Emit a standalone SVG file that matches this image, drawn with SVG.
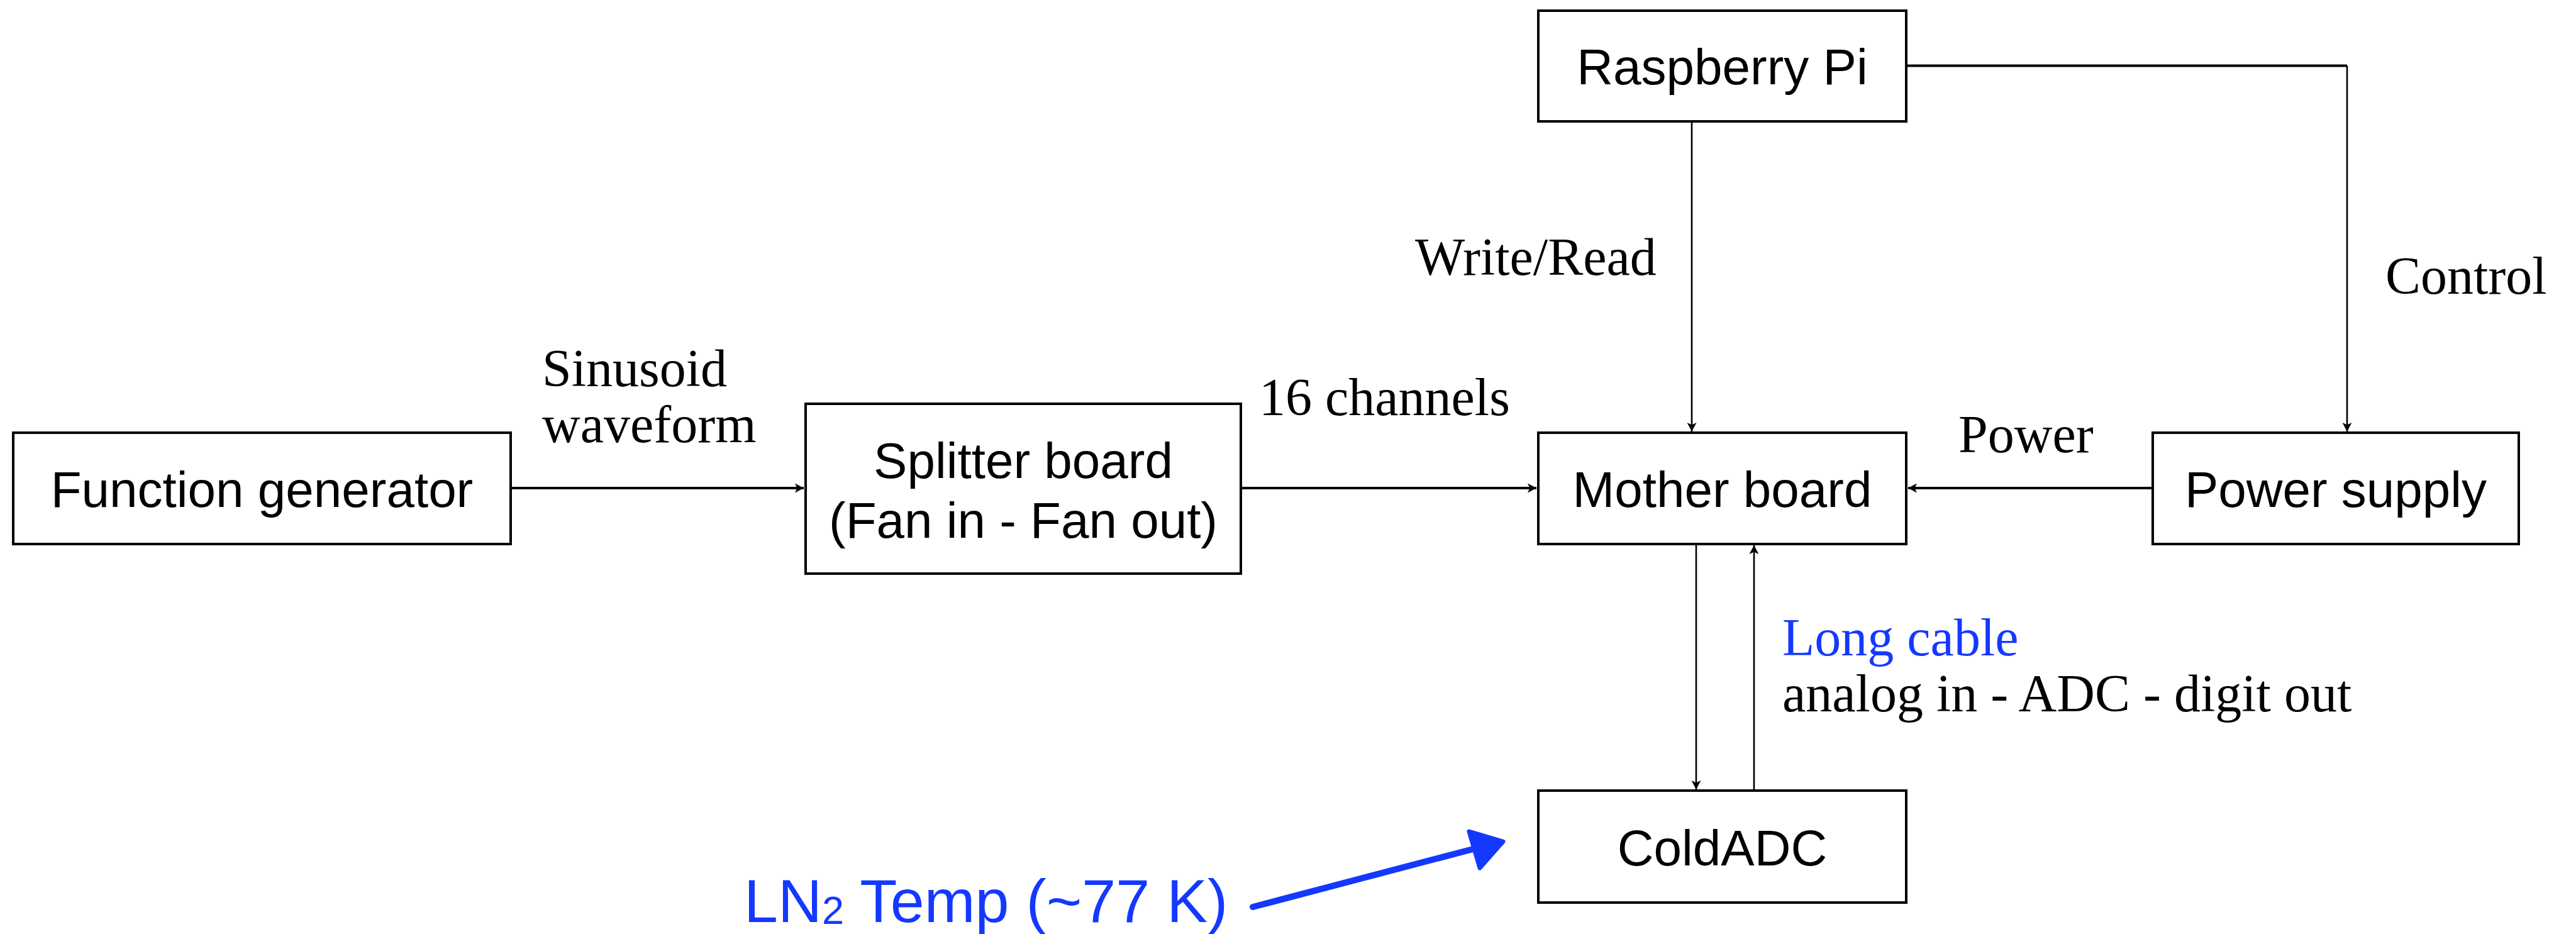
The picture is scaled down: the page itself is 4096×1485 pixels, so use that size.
<svg xmlns="http://www.w3.org/2000/svg" width="4096" height="1485" viewBox="0 0 4096 1485">
<style>
.box{fill:#fff;stroke:#000;stroke-width:4}
.bt{font-family:"Liberation Sans",Arial,sans-serif;font-size:80px;fill:#000;text-anchor:middle}
.lbl{font-family:"Liberation Serif","Times New Roman",serif;font-size:84px;fill:#000}
.blue{fill:#1538ff}
.h{stroke:#000;stroke-width:4;fill:none}
.v{stroke:#000;stroke-width:2.6;fill:none}
</style>
<defs>
<marker id="ah" markerUnits="userSpaceOnUse" markerWidth="18" markerHeight="18" viewBox="-15 -9 18 18" refX="0" refY="0" orient="auto">
<path d="M0,0 L-14,-7.5 L-10.5,0 L-14,7.5 Z" fill="#000"/>
</marker>
</defs>
<rect width="4096" height="1485" fill="#fff"/>
<g id="connectors">
<line class="h" x1="812" y1="776" x2="1278" y2="776" marker-end="url(#ah)"/>
<line class="h" x1="1973" y1="776" x2="2443" y2="776" marker-end="url(#ah)"/>
<line class="h" x1="3423" y1="776" x2="3034" y2="776" marker-end="url(#ah)"/>
<line class="v" x1="2690" y1="193" x2="2690" y2="686" marker-end="url(#ah)"/>
<polyline class="h" points="3031,104.5 3732,104.5"/>
<line class="v" x1="3732" y1="104.5" x2="3732" y2="686" marker-end="url(#ah)"/>
<line class="v" x1="2697" y1="865" x2="2697" y2="1255" marker-end="url(#ah)"/>
<line class="v" x1="2789" y1="1257" x2="2789" y2="867" marker-end="url(#ah)"/>
<g id="ln2-arrow" fill="#1538ff" stroke="#1538ff" stroke-linecap="round" stroke-linejoin="round">
<line x1="1992" y1="1442" x2="2342" y2="1350" stroke-width="10"/>
<polygon points="2336,1322 2390,1338 2353,1380" stroke-width="7"/>
</g>
</g>
<g id="function-generator">
<rect class="box" x="21" y="688" width="791" height="177"/>
<text class="bt" x="416.5" y="806">Function generator</text>
</g>
<g id="splitter-board">
<rect class="box" x="1281" y="642" width="692" height="270"/>
<text class="bt" x="1627" y="760">Splitter board</text>
<text class="bt" x="1627" y="855">(Fan in - Fan out)</text>
</g>
<g id="raspberry-pi">
<rect class="box" x="2446" y="17" width="585" height="176"/>
<text class="bt" x="2738.5" y="134">Raspberry Pi</text>
</g>
<g id="mother-board">
<rect class="box" x="2446" y="688" width="585" height="177"/>
<text class="bt" x="2738.5" y="806">Mother board</text>
</g>
<g id="power-supply">
<rect class="box" x="3423" y="688" width="582" height="177"/>
<text class="bt" x="3714" y="806">Power supply</text>
</g>
<g id="coldadc">
<rect class="box" x="2446" y="1257" width="585" height="178"/>
<text class="bt" x="2738.5" y="1376">ColdADC</text>
</g>
<g id="labels">
<text class="lbl" x="862" y="614">Sinusoid</text>
<text class="lbl" x="862" y="703">waveform</text>
<text class="lbl" x="2002" y="660">16 channels</text>
<text class="lbl" x="2250" y="437">Write/Read</text>
<text class="lbl" x="3793" y="467">Control</text>
<text class="lbl" x="3114" y="719">Power</text>
<text class="lbl blue" x="2834" y="1042">Long cable</text>
<text class="lbl" x="2834" y="1131">analog in - ADC - digit out</text>
<text x="1183" y="1466" font-family="'Liberation Sans',Arial,sans-serif" font-size="97" fill="#1538ff">LN<tspan font-size="63" dy="3">2</tspan><tspan dy="-3"> Temp (~77 K)</tspan></text>
</g>
</svg>
